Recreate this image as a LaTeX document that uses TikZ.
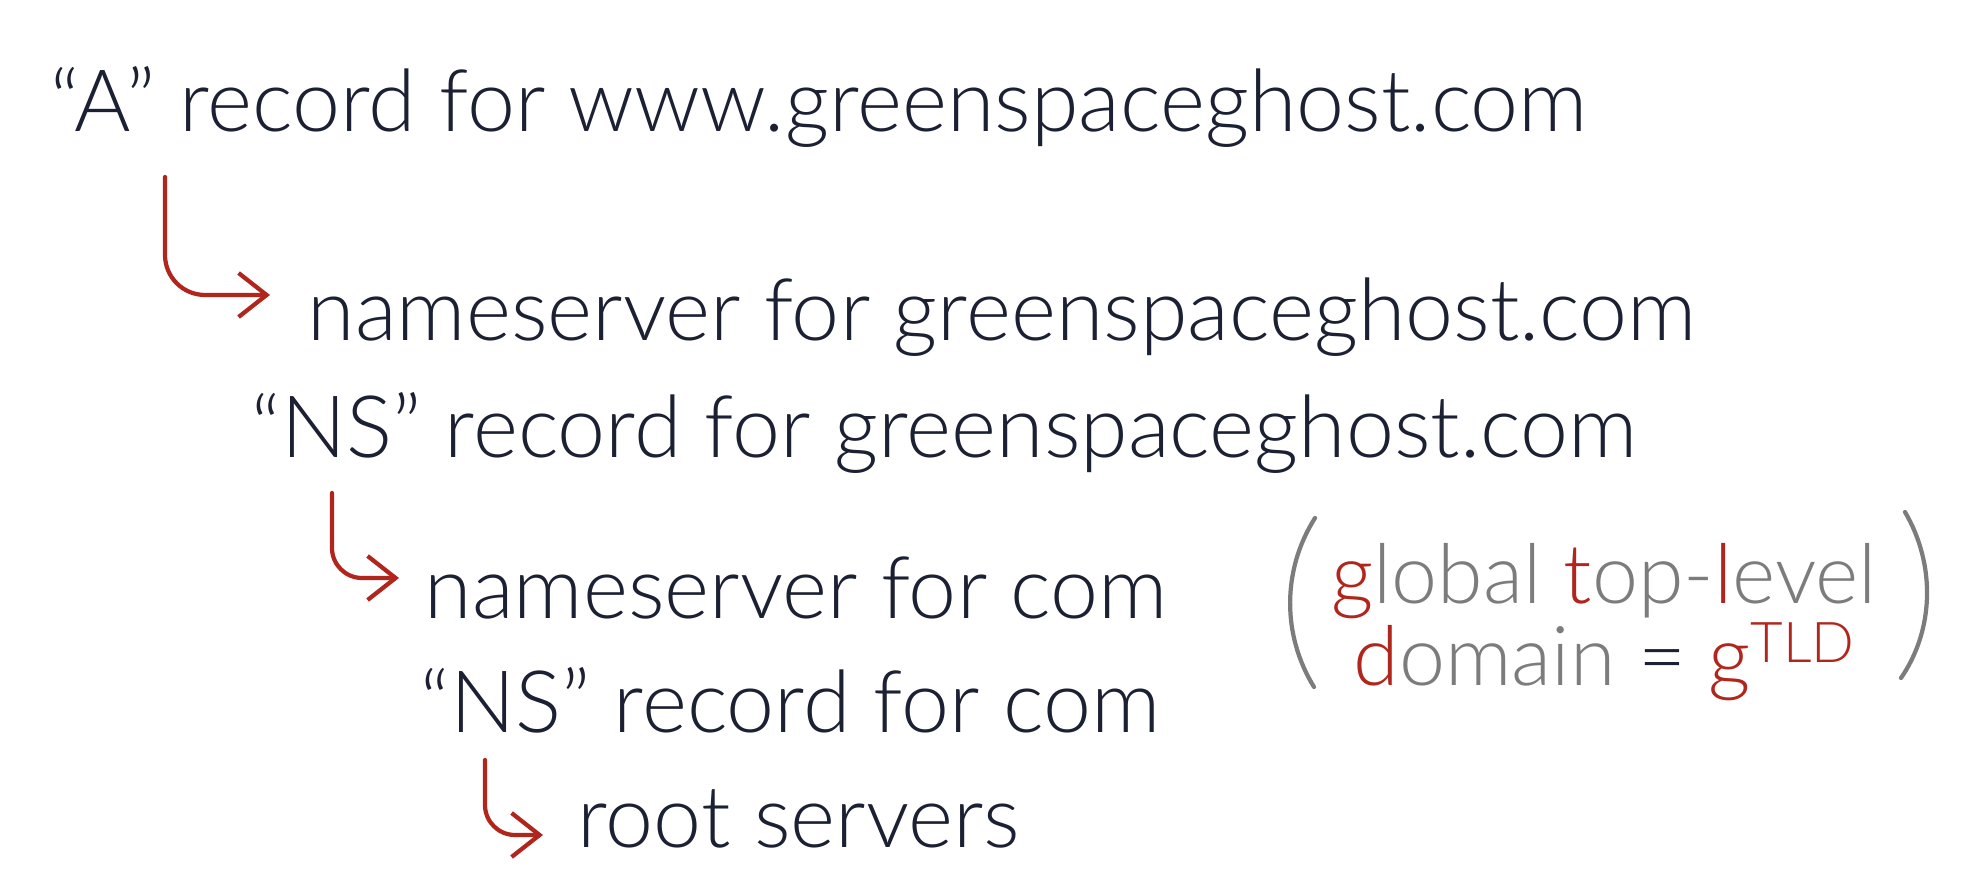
\documentclass[tikz,border=0pt]{standalone}
\usepackage{fontspec}
\setmainfont{Lato}[UprightFont=* Light]
\usetikzlibrary{arrows.meta, calc}
\definecolor{ink}{HTML}{1C2033}
\definecolor{pen}{HTML}{B0261C}
\definecolor{pencil}{HTML}{7C7C7C}

\begin{document}
\begin{tikzpicture}[
  x=0.01cm, y=-0.01cm,
  font=\fontsize{24.5}{28}\selectfont,
  line/.style={anchor=base west, inner sep=0pt, text=ink},
  arrow/.style={-{Straight Barb[length=2.8mm, width=4.4mm]}, pen, line width=1.2pt, line cap=round, line join=round},
  paren/.style={pencil, line width=1.2pt, line cap=round},
  note/.style={align=center, inner sep=0pt, text=pencil,
    font=\fontsize{23.5}{20.5}\selectfont}
]
\useasboundingbox[fill=white] (0,0) rectangle (1968,882);

% =========================
% Lookup chain
% =========================
\node[line] (arec) at (50,132) {“A” record for www.greenspaceghost.com};
\node[line] (nsgsg) at (307,341) {nameserver for greenspaceghost.com};
\node[line] (nsrec) at (251,458) {“NS” record for greenspaceghost.com};
\node[line] (nscom) at (424,619) {nameserver for com};
\node[line] (nsreccom) at (420,732) {“NS” record for com};
\node[line] (root) at (577,847) {root servers};

% =========================
% Side note
% =========================
\node[note] (gtld) at (1604,622)
{{\color{pen}g}lobal {\color{pen}t}op-{\color{pen}l}evel\\
{\color{pen}d}omain {\color{ink}=} {\color{pen}g\raisebox{0.55ex}{\fontsize{16}{16}\selectfont TLD}}};

\draw[paren] (1315,518) .. controls (1282,570) and (1282,635) .. (1314,687);
\draw[paren] (1905,512) .. controls (1936,565) and (1934,630) .. (1901,678);

% =========================
% Arrows
% =========================
\coordinate (s1) at (165,177);
\coordinate (s2) at (332,493);
\coordinate (s3) at (485,760);

\draw[arrow, rounded corners=4mm] (s1) |- ($(nsgsg.base west)+(-37,-46)$);
\draw[arrow, rounded corners=3mm] (s2) |- ($(nscom.base west)+(-25,-41)$);
\draw[arrow, rounded corners=3mm] (s3) |- ($(root.base west)+(-34,-12)$);

\end{tikzpicture}
\end{document}
